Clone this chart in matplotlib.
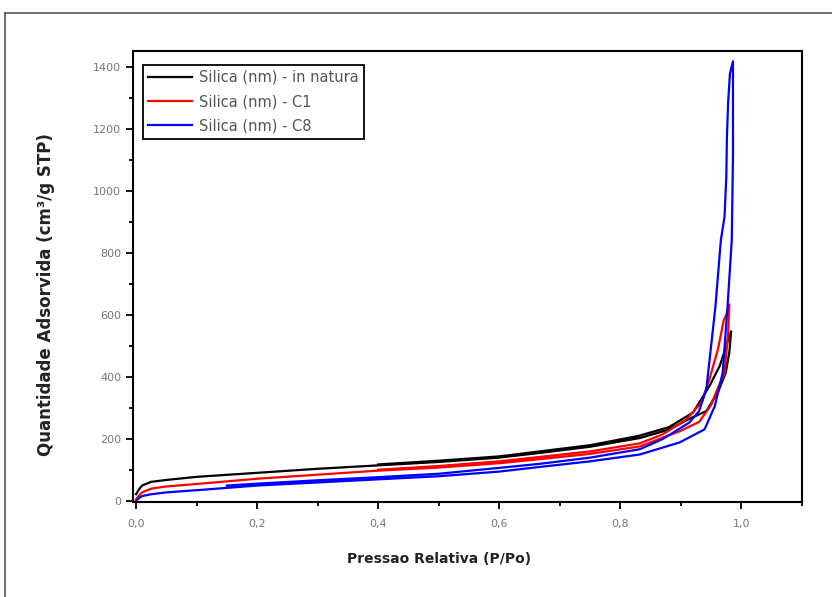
import matplotlib
matplotlib.use("Agg")
import matplotlib.pyplot as plt
from matplotlib.lines import Line2D
from matplotlib.ticker import MultipleLocator, FuncFormatter

# adsorption / desorption branches, P/Po vs quantity adsorbed
nat_ads_p = [0.0, 0.005, 0.01, 0.025, 0.05, 0.1, 0.2, 0.3, 0.4, 0.5, 0.6, 0.667, 0.75, 0.832, 0.88, 0.914, 0.942, 0.961, 0.974, 0.980, 0.983]
nat_ads_v = [22, 38, 50, 62, 68, 78, 91, 104, 115, 126, 140, 155, 175, 203, 230, 265, 290, 350, 413, 480, 547]
nat_des_p = [0.983, 0.978, 0.975, 0.964, 0.947, 0.92, 0.88, 0.83, 0.75, 0.6, 0.5, 0.4]
nat_des_v = [547, 520, 499, 435, 370, 285, 238, 210, 180, 144, 130, 118]

c1_ads_p = [0.0, 0.005, 0.01, 0.025, 0.05, 0.1, 0.2, 0.3, 0.4, 0.5, 0.6, 0.667, 0.75, 0.832, 0.898, 0.93, 0.95, 0.958, 0.972, 0.978, 0.980]
c1_ads_v = [5, 18, 28, 40, 47, 55, 72, 85, 98, 108, 122, 135, 152, 176, 225, 255, 310, 350, 413, 540, 633]
c1_des_p = [0.980, 0.975, 0.971, 0.961, 0.947, 0.934, 0.909, 0.87, 0.832, 0.75, 0.6, 0.5, 0.4]
c1_des_v = [633, 600, 584, 488, 392, 318, 263, 215, 186, 160, 128, 113, 101]

c8_ads_p = [0.0, 0.005, 0.01, 0.025, 0.05, 0.1, 0.2, 0.3, 0.4, 0.5, 0.6, 0.667, 0.75, 0.832, 0.898, 0.939, 0.956, 0.969, 0.977, 0.984, 0.986, 0.986]
c8_ads_v = [0, 10, 16, 22, 28, 35, 50, 60, 70, 80, 95, 110, 128, 150, 189, 231, 306, 413, 627, 841, 1114, 1417]
c8_des_p = [0.986, 0.981, 0.978, 0.976, 0.975, 0.972, 0.966, 0.957, 0.942, 0.93, 0.914, 0.87, 0.832, 0.75, 0.667, 0.6, 0.5, 0.4, 0.3, 0.2, 0.15]
c8_des_v = [1417, 1377, 1285, 1173, 1045, 916, 841, 627, 360, 290, 253, 200, 167, 140, 120, 107, 88, 77, 67, 56, 50]

labels = ["Silica (nm) - in natura", "Silica (nm) - C1", "Silica (nm) - C8"]
colors = ["black", "red", "blue"]

fig = plt.figure(figsize=(8.32, 5.97), dpi=100)
ax = fig.add_axes([133 / 832, 95 / 597, (802 - 133) / 832, (502 - 51) / 597])

series = [
    (nat_ads_p + nat_des_p, nat_ads_v + nat_des_v),
    (c1_ads_p + c1_des_p, c1_ads_v + c1_des_v),
    (c8_ads_p + c8_des_p, c8_ads_v + c8_des_v),
]
for (p, v), lab, col in zip(series, labels, colors):
    ax.plot(p, v, color=col, lw=1.6, label=lab)

ax.set_xlim(-0.005, 1.1)
ax.set_ylim(-3, 1450)
ax.xaxis.set_major_locator(MultipleLocator(0.2))
ax.xaxis.set_minor_locator(MultipleLocator(0.1))
ax.yaxis.set_major_locator(MultipleLocator(200))
ax.yaxis.set_minor_locator(MultipleLocator(100))
ax.xaxis.set_major_formatter(FuncFormatter(lambda x, pos: ("%.1f" % x).replace(".", ",")))
ax.tick_params(which="both", direction="out", width=1.3, colors="black", labelcolor="#777777", labelsize=8)
ax.tick_params(which="major", length=5)
ax.tick_params(which="minor", length=3)
ax.tick_params(axis="x", pad=7)
for s in ax.spines.values():
    s.set_linewidth(1.5)

ax.set_xlabel("Pressao Relativa (P/Po)", fontsize=10, fontweight="bold", color="#222222")
ax.set_ylabel("Quantidade Adsorvida (cm³/g STP)", fontsize=12, fontweight="bold", color="#222222")
ax.xaxis.set_label_coords(0.457, -0.11)
ax.yaxis.set_label_coords(-0.117, 0.459)

leg = ax.legend(loc="upper left", bbox_to_anchor=(0.015, 0.97), fancybox=False, framealpha=1,
                edgecolor="black", fontsize=10.5, handlelength=3.0, borderpad=0.35, labelspacing=0.65,
                handletextpad=0.5, borderaxespad=0)
leg.get_frame().set_linewidth(1.3)
for t in leg.get_texts():
    t.set_color("#555555")

# outer frame of the picture
fig.add_artist(Line2D([5 / 832, 5 / 832], [0, 1 - 13 / 597], color="#555555", lw=1.2))
fig.add_artist(Line2D([5 / 832, 1], [1 - 13 / 597, 1 - 13 / 597], color="#555555", lw=1.2))

fig.savefig("out.png", dpi=100)
